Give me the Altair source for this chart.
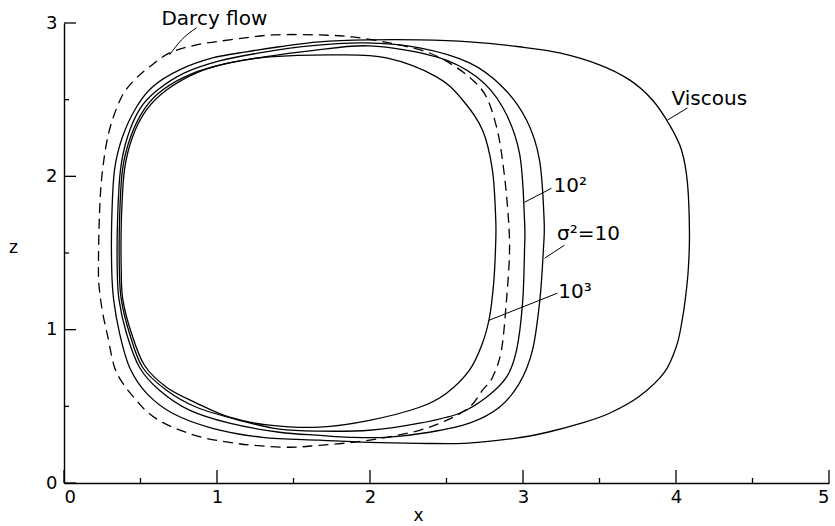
import altair as alt
import pandas as pd

# Streamline coordinates (x, z) for each flow case, traced clockwise
darcy_x = [0.225, 0.232, 0.252, 0.297, 0.376, 0.461, 0.559, 0.690, 0.866, 1.082,
           1.363, 1.670, 1.886, 2.127, 2.369, 2.539, 2.670, 2.761, 2.827, 2.866,
           2.899, 2.912, 2.892, 2.859, 2.801, 2.735, 2.650, 2.500, 2.324, 2.108,
           1.886, 1.670, 1.474, 1.232, 1.082, 0.931, 0.781, 0.644, 0.539, 0.461,
           0.389, 0.330, 0.284, 0.252, 0.232]
darcy_z = [1.388, 1.760, 2.041, 2.302, 2.517, 2.629, 2.714, 2.805, 2.857, 2.890,
           2.922, 2.922, 2.909, 2.870, 2.812, 2.727, 2.629, 2.517, 2.322, 2.106,
           1.799, 1.519, 1.193, 0.866, 0.690, 0.605, 0.494, 0.409, 0.344, 0.298,
           0.265, 0.246, 0.233, 0.246, 0.265, 0.291, 0.336, 0.395, 0.468, 0.553,
           0.644, 0.755, 0.964, 1.114, 1.257]

viscous_x = [0.312, 0.312, 0.330, 0.382, 0.474, 0.578, 0.755, 0.971, 1.193, 1.408,
             1.670, 1.997, 2.324, 2.650, 2.977, 3.239, 3.500, 3.696, 3.846, 3.958,
             4.036, 4.075, 4.088, 4.080, 4.060, 4.040, 4.005, 3.925, 3.761, 3.565,
             3.382, 3.160, 2.944, 2.618, 2.324, 1.997, 1.670, 1.297, 0.971, 0.709,
             0.539, 0.428, 0.363, 0.325]
viscous_z = [1.388, 1.714, 2.041, 2.257, 2.452, 2.583, 2.694, 2.772, 2.812, 2.845,
             2.877, 2.890, 2.890, 2.877, 2.845, 2.805, 2.727, 2.629, 2.498, 2.335,
             2.172, 1.956, 1.630, 1.388, 1.193, 1.060, 0.899, 0.723, 0.566, 0.455,
             0.390, 0.331, 0.291, 0.259, 0.259, 0.265, 0.279, 0.298, 0.357, 0.455,
             0.586, 0.755, 0.977, 1.193]

s10_x = [0.348, 0.350, 0.369, 0.415, 0.500, 0.611, 0.788, 1.016, 1.278, 1.605,
         1.964, 2.324, 2.650, 2.866, 3.023, 3.108, 3.138, 3.133, 3.110, 3.062,
         2.977, 2.846, 2.650, 2.389, 2.108, 1.866, 1.670, 1.408, 1.082, 0.820,
         0.624, 0.493, 0.408, 0.360]
s10_z = [1.388, 1.714, 2.041, 2.257, 2.446, 2.563, 2.675, 2.753, 2.805, 2.851,
         2.870, 2.838, 2.740, 2.583, 2.367, 2.106, 1.714, 1.519, 1.193, 0.866,
         0.651, 0.494, 0.390, 0.331, 0.298, 0.298, 0.311, 0.331, 0.390, 0.475,
         0.605, 0.755, 0.977, 1.193]

s100_x = [0.362, 0.363, 0.382, 0.435, 0.526, 0.644, 0.833, 1.049, 1.310, 1.605,
          1.997, 2.435, 2.696, 2.866, 2.977, 3.010, 3.010, 2.997, 2.958, 2.892,
          2.761, 2.585, 2.324, 1.997, 1.670, 1.408, 1.147, 0.866, 0.670, 0.513,
          0.428, 0.375]
s100_z = [1.388, 1.714, 2.041, 2.257, 2.440, 2.563, 2.668, 2.733, 2.779, 2.818,
          2.851, 2.779, 2.649, 2.452, 2.152, 1.714, 1.519, 1.173, 0.866, 0.690,
          0.559, 0.455, 0.390, 0.344, 0.338, 0.351, 0.409, 0.494, 0.605, 0.755,
          0.977, 1.193]

s1000_x = [0.374, 0.375, 0.395, 0.448, 0.539, 0.670, 0.866, 1.082, 1.343, 1.781,
           2.108, 2.435, 2.605, 2.735, 2.800, 2.822, 2.820, 2.808, 2.781, 2.735,
           2.650, 2.500, 2.324, 1.997, 1.670, 1.343, 1.082, 0.866, 0.670, 0.526,
           0.441, 0.385]
s1000_z = [1.388, 1.714, 2.041, 2.257, 2.433, 2.563, 2.675, 2.740, 2.779, 2.792,
           2.772, 2.649, 2.498, 2.302, 2.041, 1.714, 1.519, 1.300, 1.081, 0.912,
           0.736, 0.586, 0.494, 0.409, 0.364, 0.377, 0.429, 0.521, 0.625, 0.768,
           0.977, 1.193]

# Curve labels and their anchor points (left end of text, baseline)
label_text = ["Darcy flow", "Viscous", "10²", "σ²=10", "10³"]
label_x = [0.637, 3.971, 3.200, 3.222, 3.230]
label_z = [2.988, 2.465, 1.896, 1.584, 1.205]

# Leader lines from each label to its curve
leader_id = ["darcy", "darcy", "darcy", "visc", "visc", "s100", "s100",
             "s10", "s10", "s1000", "s1000"]
leader_x = [0.866, 0.768, 0.690, 4.075, 3.944, 3.186, 3.010, 3.271, 3.141, 3.225, 2.775]
leader_z = [2.968, 2.890, 2.792, 2.446, 2.367, 1.922, 1.831, 1.551, 1.466, 1.238, 1.060]

x_major = [0, 1, 2, 3, 4, 5]
x_minor = [0.5, 1.5, 2.5, 3.5, 4.5]
z_major = [0, 1, 2, 3]
z_minor = [0.5, 1.5, 2.5]

W, H = 765, 460
FONT = "DejaVu Sans"


def curve_frame(name, xs, zs):
    return pd.DataFrame({"curve": name, "i": range(len(xs)), "x": xs, "z": zs})


solid_df = pd.concat([
    curve_frame("Viscous", viscous_x, viscous_z),
    curve_frame("10", s10_x, s10_z),
    curve_frame("100", s100_x, s100_z),
    curve_frame("1000", s1000_x, s1000_z),
])
darcy_df = curve_frame("Darcy", darcy_x, darcy_z)
labels_df = pd.DataFrame({"text": label_text, "x": label_x, "z": label_z})
leader_df = pd.DataFrame({"id": leader_id, "i": range(len(leader_id)),
                          "x": leader_x, "z": leader_z})

xscale = alt.Scale(domain=[0, 5], nice=False, zero=False)
zscale = alt.Scale(domain=[0, 3], nice=False, zero=False)

x_axis = alt.Axis(values=x_major, ticks=False, tickSize=0, grid=False,
                  domainColor="black", domainWidth=1.4,
                  labelFont=FONT, labelFontSize=18, labelColor="black",
                  labelPadding=5, labelAngle=0,
                  title="x", titleFont=FONT, titleFontSize=17,
                  titleFontWeight="normal", titleColor="black",
                  titleX=354, titleY=32, titleAlign="center",
                  titleBaseline="middle", titleAngle=0)
z_axis = alt.Axis(values=z_major, ticks=False, tickSize=0, grid=False,
                  domainColor="black", domainWidth=1.4,
                  labelFont=FONT, labelFontSize=18, labelColor="black",
                  labelPadding=7,
                  title="z", titleFont=FONT, titleFontSize=17,
                  titleFontWeight="normal", titleColor="black",
                  titleX=-51, titleY=224, titleAlign="center",
                  titleBaseline="middle", titleAngle=0)


def xy(xfield="x:Q", zfield="z:Q"):
    return dict(
        x=alt.X(xfield, scale=xscale, axis=x_axis),
        y=alt.Y(zfield, scale=zscale, axis=z_axis),
    )


solid = alt.Chart(solid_df).mark_line(
    interpolate="cardinal-closed", color="black", strokeWidth=1.3
).encode(
    **xy(),
    detail="curve:N",
    order="i:Q",
)

darcy = alt.Chart(darcy_df).mark_line(
    interpolate="cardinal-closed", color="black", strokeWidth=1.3,
    strokeDash=[10, 6]
).encode(
    **xy(),
    order="i:Q",
)

leaders = alt.Chart(leader_df).mark_line(
    interpolate="monotone", color="black", strokeWidth=1
).encode(
    **xy(),
    detail="id:N",
    order="i:Q",
)

labels = alt.Chart(labels_df).mark_text(
    align="left", baseline="alphabetic", font=FONT, fontSize=20, color="black"
).encode(
    **xy(),
    text="text:N",
)


def x_ticks(values, length):
    return alt.Chart(pd.DataFrame({"t": values})).mark_rule(
        color="black", strokeWidth=1.3
    ).encode(
        x=alt.X("t:Q", scale=xscale, axis=x_axis),
        y=alt.value(H), y2=alt.value(H - length),
    )


def z_ticks(values, length):
    return alt.Chart(pd.DataFrame({"t": values})).mark_rule(
        color="black", strokeWidth=1.3
    ).encode(
        y=alt.Y("t:Q", scale=zscale, axis=z_axis),
        x=alt.value(0), x2=alt.value(length),
    )


chart = alt.layer(
    solid, darcy, leaders, labels,
    x_ticks(x_major, 13), x_ticks(x_minor, 5),
    z_ticks(z_major, 12), z_ticks(z_minor, 5),
).properties(
    width=W, height=H,
    autosize=alt.AutoSizeParams(type="none"),
    padding={"left": 64, "top": 23, "right": 6, "bottom": 43},
    background="white",
).configure_view(stroke=None)

chart.save("out.html", embed_options={"renderer": "svg", "actions": False})
